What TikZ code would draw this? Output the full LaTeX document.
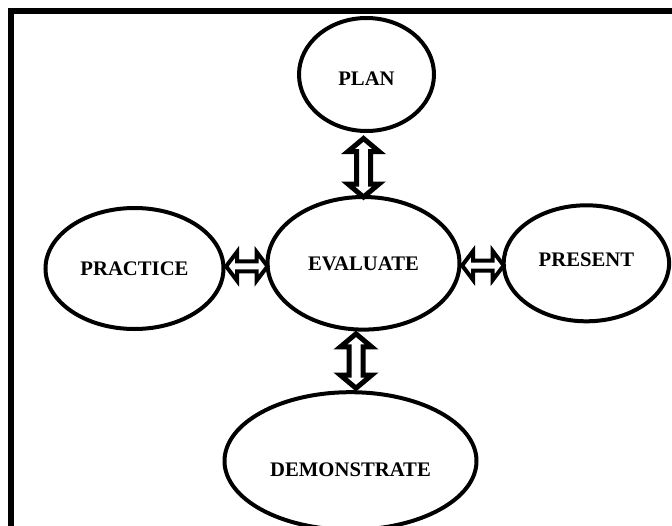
\documentclass[tikz,border=0pt]{standalone}
\usepackage{fontspec}
\setmainfont{Liberation Serif}
\usetikzlibrary{calc,shapes.geometric}
\tikzset{
  arr sw/.store in=\arrsw, arr hw/.store in=\arrhw, arr hl/.store in=\arrhl,
  arr a/.store in=\arra, arr b/.store in=\arrb,
  arr sw=7pt, arr hw=15pt, arr hl=13pt, arr a=0pt, arr b=0pt,
  dblarrow/.style={draw=black, fill=white, line width=5pt, line join=miter, miter limit=10,
    to path={
      let \p1=($(\tikztostart)!\arra!(\tikztotarget)$),
          \p4=($(\tikztotarget)!\arrb!(\tikztostart)$),
          \p2=($(\p1)!\arrhl!(\p4)$),
          \p3=($(\p4)!\arrhl!(\p1)$)
      in (\p1) -- ($(\p2)!\arrhw!90:(\p1)$) -- ($(\p2)!\arrsw!90:(\p1)$)
         -- ($(\p3)!\arrsw!-90:(\p4)$) -- ($(\p3)!\arrhw!-90:(\p4)$) -- (\p4)
         -- ($(\p3)!\arrhw!90:(\p4)$) -- ($(\p3)!\arrsw!90:(\p4)$)
         -- ($(\p2)!\arrsw!-90:(\p1)$) -- ($(\p2)!\arrhw!-90:(\p1)$) -- cycle
    }},
  vdbl/.style={dblarrow, line width=5pt, arr sw=7pt, arr hw=15.5pt, arr hl=13pt},
  hdbl/.style={dblarrow, line width=4pt, arr sw=5pt, arr hw=14.5pt, arr hl=11pt},
  bubble/.style={ellipse, draw=black, line width=4pt, inner sep=0pt, outer sep=0pt,
    font=\bfseries\fontsize{20.7pt}{24pt}\selectfont, text height=13.7pt, text depth=0pt}
}
\begin{document}
\begin{tikzpicture}[x=1pt,y=-1pt]
\useasboundingbox (0,0) rectangle (672,525);
\clip (0,0) rectangle (672,525);
\fill[white] (0,0) rectangle (672,525);
\draw[line width=6pt] (11,11) rectangle (720,580);

\node[bubble, minimum width=135pt, minimum height=113pt, text height=21.7pt] (plan) at (366.5,74.5) {PLAN};
\node[bubble, minimum width=192pt, minimum height=132.6pt] (eval) at (363.5,263.3) {EVALUATE};
\node[bubble, minimum width=178pt, minimum height=121pt] (practice) at (134.5,268.5) {PRACTICE};
\node[bubble, minimum width=165.4pt, minimum height=116pt, text depth=8pt] (present) at (586.4,263.3) {PRESENT};
\node[bubble, minimum width=252pt, minimum height=137.6pt, text height=31.7pt] (demo) at (350.5,461) {DEMONSTRATE};

\draw[vdbl, arr a=7.5pt, arr b=0pt] (eval.north |- plan.south) to (eval.north);
\draw[vdbl, arr a=4.2pt, arr b=4pt] ([xshift=-7.5pt]eval.south) to ([xshift=-7.5pt]eval.south |- demo.north);
\draw[hdbl, arr a=2.6pt, arr b=0pt] ([yshift=2.2pt]practice.east) to ([yshift=2.2pt]practice.east -| eval.west);
\draw[hdbl, arr a=2.6pt, arr b=0pt] ([yshift=-2.2pt]eval.east) to ([yshift=-2.2pt]eval.east -| present.west);
\end{tikzpicture}
\end{document}
